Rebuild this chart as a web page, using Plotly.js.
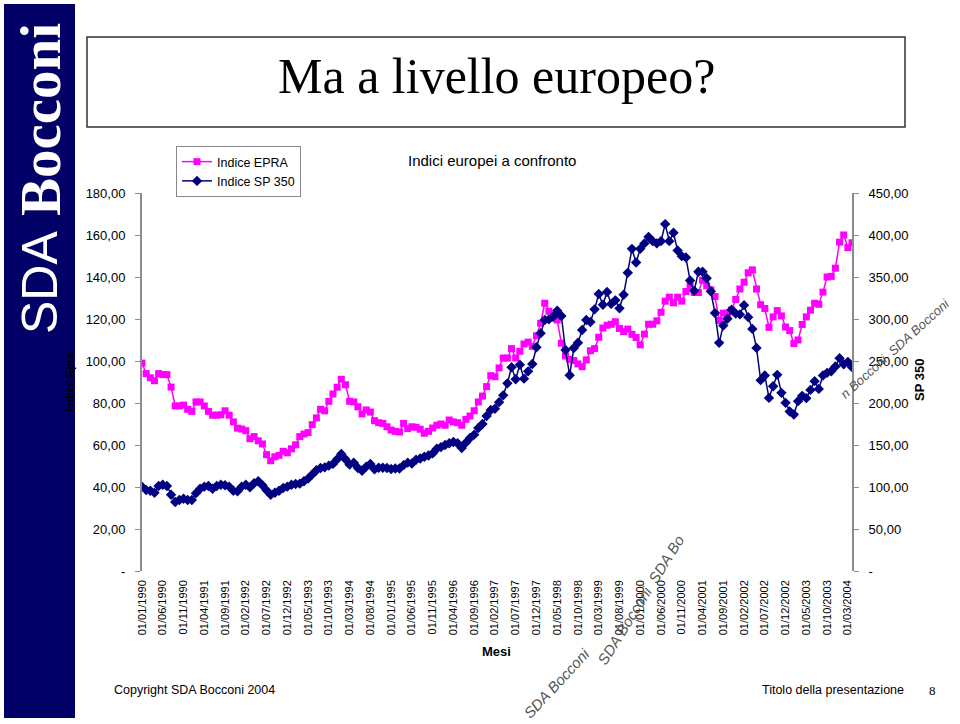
<!DOCTYPE html>
<html>
<head>
<meta charset="utf-8">
<script src="https://cdn.plot.ly/plotly-3.0.1.min.js"></script>
<style>
html,body{margin:0;padding:0;background:#fff;}
#chart{width:960px;height:724px;}
</style>
</head>
<body>
<div id="chart"></div>
<script>
// ---- data ----
const startYear = 1990;
const nMonths = 172; // 01/1990 .. 04/2004
const months = [];
for (let i = 0; i < nMonths; i++) {
  const y = startYear + Math.floor(i / 12);
  const m = (i % 12) + 1;
  months.push('01/' + (m < 10 ? '0' + m : m) + '/' + y);
}

const epra = [
  99, 94, 92, 90.6, 94, 93.5, 93.5, 87.6, 78.6, 78.6,
  79, 77, 76, 80.5, 80.5, 78.6, 76, 74.2, 74.2, 74.4,
  76.3, 74.2, 71, 68, 67.6, 66.8, 63, 64, 62, 60.5,
  55.4, 52.5, 54.4, 55.1, 57, 56.3, 58.2, 60.1, 64, 65.2,
  65.9, 69.7, 72.9, 77, 76.3, 80.8, 84.3, 87.5, 91.3, 88.7,
  80.8, 80.5, 78.2, 74.8, 76.7, 75.7, 71.6, 70.6, 70.3, 68.7,
  67.1, 66.5, 66.2, 70.3, 67.8, 68.7, 68.4, 67.5, 65.6, 66.5,
  68.1, 69.4, 70, 69.4, 71.9, 71, 70.6, 69.4, 72.2, 73.8,
  76.3, 80.5, 83.3, 87.8, 93, 92.5, 96.7, 101.4, 101.4, 105.9,
  101.4, 104.6, 108.1, 109, 107, 112, 118, 127.5, 123.7, 120.5,
  119.5, 108.5, 102.4, 100.8, 100.2, 98.6, 97.3, 100.5, 104.9, 105.9,
  111.3, 115.7, 117, 117.5, 118.7, 115.5, 114, 115.2, 112.7, 111.2,
  107.7, 112.8, 117.5, 117.5, 119.1, 123.2, 128.5, 130.4, 127.7, 130.4,
  128.5, 133.1, 135.5, 132.6, 132.6, 138.5, 135.8, 133.9, 130.7, 119.3,
  122.8, 122.7, 124.3, 129.3, 134.3, 137.5, 142, 143.4, 134.3, 126.8,
  125, 116, 121, 124, 121.5, 116.2, 114.5, 108.3, 110, 117.4,
  121, 124.2, 127.5, 127, 132.8, 140, 140.3, 144.2, 156.6, 160,
  154, 156.3
];

const sp350 = [
  100.4, 96.4, 95.6, 93.2, 101.2, 102.7, 101.2, 90.8, 82.1, 84.5,
  86.1, 84.5, 84.5, 92.5, 98, 100.4, 101.2, 98, 101.2, 102.7,
  102, 100.4, 95.6, 94.8, 100.4, 102.7, 99.6, 104.4, 106.8, 102,
  96, 90.8, 93.2, 95.6, 98.8, 100.4, 102.7, 103.6, 104, 106.8,
  110, 115, 120, 122.6, 123.4, 125.5, 127.5, 133, 139.3, 133,
  126.6, 128.9, 122.6, 119.4, 124.2, 127.4, 121, 123, 123, 122.6,
  121.5, 122, 122, 126, 129, 128, 132.5, 134, 136, 137.5,
  140, 145.5, 147.5, 150, 152, 153.5, 152, 146.4, 152.8, 158.3,
  162.3, 170.2, 175, 184.5, 191.7, 193.2, 201, 209.1, 223.4, 242.5,
  228.2, 245.6, 229, 237.7, 246.4, 266.3, 283, 298.8, 299.6, 302.7,
  309.9, 303.6, 263.1, 233, 265.5, 271.8, 286.9, 298.8, 296.4, 311.5,
  329.8, 317, 332.1, 318, 322.2, 312.7, 328.8, 355, 383.5, 367.3,
  383.5, 390, 397.8, 392.7, 390, 392.7, 413, 392.7, 402.6, 381.5,
  374.8, 373.2, 345.8, 333.5, 356.2, 356.2, 348.6, 333, 307, 271.6,
  292.3, 300.2, 311, 306.5, 305.5, 316.5, 302.2, 288.2, 265.6, 227.2,
  232.8, 206.1, 220, 233.5, 212.1, 200.2, 189.9, 186.3, 202.2, 208.5,
  205.8, 215.6, 226, 216.8, 232.8, 235.9, 237.8, 243.5, 253.4, 246.2,
  249, 242.7
];

const leftTickVals = [0, 20, 40, 60, 80, 100, 120, 140, 160, 180];
const leftTickText = ['-', '20,00', '40,00', '60,00', '80,00', '100,00', '120,00', '140,00', '160,00', '180,00'];
const rightTickVals = [0, 50, 100, 150, 200, 250, 300, 350, 400, 450];
const rightTickText = ['-', '50,00', '100,00', '150,00', '200,00', '250,00', '300,00', '350,00', '400,00', '450,00'];
const xTickVals = months.filter((d, i) => i % 5 === 0);

// ---- helpers (pixel -> paper) ----
const W = 960, H = 724;
const px = v => v / W;
const py = v => 1 - v / H;
const SANS = 'Arial, "Liberation Sans", sans-serif';
const SERIF = '"Times New Roman", "Liberation Serif", serif';

function note(text, x, y, size, opts) {
  return Object.assign({
    text: text, xref: 'paper', yref: 'paper', x: px(x), y: py(y),
    xanchor: 'center', yanchor: 'middle', showarrow: false,
    font: {family: SANS, size: size, color: '#000'}
  }, opts || {});
}

const traces = [
  {
    x: months, y: epra, name: 'Indice EPRA', type: 'scatter', mode: 'lines+markers',
    line: {color: '#FF00FF', width: 1.5},
    marker: {symbol: 'square', size: 7, color: '#FF00FF'},
    xaxis: 'x', yaxis: 'y'
  },
  {
    x: months, y: sp350, name: 'Indice SP 350', type: 'scatter', mode: 'lines+markers',
    line: {color: '#000080', width: 1.5},
    marker: {symbol: 'diamond', size: 8, color: '#000080'},
    xaxis: 'x', yaxis: 'y2'
  }
];

const layout = {
  width: W, height: H,
  margin: {l: 0, r: 0, t: 0, b: 0},
  paper_bgcolor: '#fff', plot_bgcolor: 'rgba(0,0,0,0)',
  font: {family: SANS, color: '#000'},
  showlegend: true,
  legend: {
    x: px(176), y: py(146), xanchor: 'left', yanchor: 'top',
    bgcolor: '#fff', bordercolor: '#888', borderwidth: 1,
    font: {family: SANS, size: 12.5, color: '#000'},
    itemwidth: 30, tracegroupgap: 0
  },
  xaxis: {
    type: 'category', domain: [px(142), px(852)], range: [0, nMonths - 1],
    tickvals: xTickVals, ticktext: xTickVals, tickangle: -90,
    tickfont: {family: SANS, size: 11, color: '#000'},
    showgrid: false, zeroline: false, showline: false, ticks: '',
    ticklabelstandoff: 6, anchor: 'y'
  },
  yaxis: {
    domain: [1 - 571 / H, 1 - 193 / H], range: [0, 180],
    tickvals: leftTickVals, ticktext: leftTickText,
    tickfont: {family: SANS, size: 13, color: '#000'},
    showgrid: false, zeroline: false, showline: true, linecolor: '#8c8c8c', linewidth: 2,
    ticks: 'outside', ticklen: 5, tickcolor: '#8c8c8c', ticklabelstandoff: 7
  },
  yaxis2: {
    overlaying: 'y', side: 'right', range: [0, 450], anchor: 'x',
    tickvals: rightTickVals, ticktext: rightTickText,
    tickfont: {family: SANS, size: 13, color: '#000'},
    showgrid: false, zeroline: false, showline: true, linecolor: '#8c8c8c', linewidth: 2,
    ticks: 'outside', ticklen: 5, tickcolor: '#8c8c8c', ticklabelstandoff: 7
  },
  shapes: [
    {type: 'rect', xref: 'paper', yref: 'paper', x0: px(4), x1: px(75), y0: py(718), y1: py(4),
     fillcolor: '#000066', line: {width: 0}, layer: 'below'},
    {type: 'rect', xref: 'paper', yref: 'paper', x0: px(87), x1: px(905), y0: py(127), y1: py(37),
     fillcolor: 'rgba(0,0,0,0)', line: {color: '#333', width: 1.5}}
  ],
  annotations: [
    note('Ma a livello europeo?', 496, 76, 50, {font: {family: SERIF, size: 50, color: '#000'}}),
    note('Indici europei a confronto', 492, 161, 15),
    note('<b>Mesi</b>', 496, 651, 13),
    note('<b>Indice Epra</b>', 70, 382, 11, {textangle: -90}),
    note('<b>SP 350</b>', 919, 380, 13, {textangle: -90}),
    note('SDA', 40, 283, 50, {textangle: -90, font: {family: SANS, size: 50, color: '#fff'}}),
    note('<b>Bocconi</b>', 40, 120, 57, {textangle: -90, font: {family: SERIF, size: 57, color: '#fff'}}),
    note('Copyright SDA Bocconi 2004', 112, 690, 12.5, {xanchor: 'left'}),
    note('Titolo della presentazione', 760, 690, 12.5, {xanchor: 'left'}),
    note('8', 932, 690, 13, {font: {family: SERIF, size: 13, color: '#000'}}),
    note('<i>SDA Bocconi</i>', 556, 683, 15, {textangle: -47, font: {family: SANS, size: 15, color: '#555'}}),
    note('<i>SDA Bocconi  SDA Bo</i>', 640, 600, 15, {textangle: -58, font: {family: SANS, size: 15, color: '#555'}}),
    note('<i>n Bocconi  SDA Bocconi</i>', 895, 348, 13, {textangle: -42, font: {family: SANS, size: 13, color: '#555'}})
  ]
};

Plotly.newPlot('chart', traces, layout, {displayModeBar: false, staticPlot: true});
</script>
</body>
</html>
